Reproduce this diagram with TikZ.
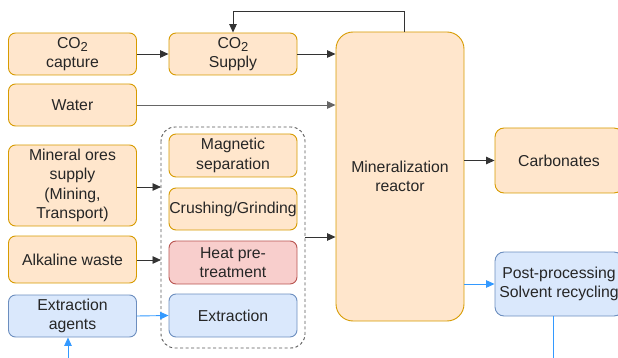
\documentclass[tikz,border=0pt]{standalone}
\usepackage{fontspec}
\setmainfont{Liberation Sans}
\usetikzlibrary{arrows.meta,positioning,calc}
\definecolor{orfill}{HTML}{FFE6CC}
\definecolor{ordraw}{HTML}{D79B00}
\definecolor{rdfill}{HTML}{F8CECC}
\definecolor{rddraw}{HTML}{B85450}
\definecolor{blfill}{HTML}{DAE8FC}
\definecolor{bldraw}{HTML}{6C8EBF}
\definecolor{flow}{HTML}{333333}
\definecolor{bflow}{HTML}{3399FF}
\newcommand{\cotwo}{CO\raisebox{-0.4ex}{\fontsize{13}{13}\selectfont 2}}
\tikzset{
  x=1pt, y=-1pt,
  box/.style={draw=ordraw, fill=orfill, line width=0.9pt, rounded corners=7pt,
    minimum width=128pt, minimum height=42pt, inner sep=0pt, align=center,
    font=\fontsize{15.8}{19.5}\selectfont, text=black!85},
  redbox/.style={box, draw=rddraw, fill=rdfill},
  bluebox/.style={box, draw=bldraw, fill=blfill},
  arr/.style={draw=flow, line width=0.9pt, -{Triangle[length=8.5pt,width=7.5pt]}},
  barr/.style={draw=bflow, line width=0.9pt, -{Triangle[length=8.5pt,width=7.5pt]}},
  group/.style={draw=black!65, dashed, line width=0.9pt, rounded corners=14pt,
    dash pattern=on 3pt off 2.5pt}
}
\begin{document}
\begin{tikzpicture}
\useasboundingbox (0,0) rectangle (618,358);

% inputs on the left
\node[box] (cap) at (72.5,54) {\cotwo\\capture};
\node[box] (sup) at (233,54) {\cotwo\\Supply};
\node[box] (wat) at (72.5,105) {Water};
\node[box, minimum height=81pt] (ore) at (72.5,185.5) {Mineral ores\\supply\\(Mining,\\Transport)};
\node[box, minimum height=47pt] (alk) at (72.5,259.5) {Alkaline waste};
\node[bluebox] (agt) at (72.5,316) {Extraction\\agents};

% pre-treatment group
\draw[group] (161,127) rectangle (305,348);
\coordinate (grpW) at (161,237);
\coordinate (grpE) at (305,237);
\node[box, minimum height=43pt] (mag) at (233,155.5) {Magnetic\\separation};
\node[box] (cru) at (233,209) {Crushing/Grinding};
\node[redbox, minimum height=43pt] (heat) at (233,262.5) {Heat pre-\\treatment};
\node[bluebox, minimum height=43pt] (ext) at (233,315.5) {Extraction};

% reactor and products
\node[box, minimum height=289pt, rounded corners=17pt, text depth=0pt] (rea) at (400,176.5) {Mineralization\\reactor};
\node[box, minimum height=65pt, rounded corners=9pt] (carb) at (559,160.5) {Carbonates};
\node[bluebox, minimum height=64pt, rounded corners=9pt] (post) at (559,284) {Post-processing\\Solvent recycling};

% connectors
\draw[arr] (cap) -- (sup);
\draw[arr] (sup.east) -- (sup.east -| rea.west);
\draw[arr, draw=black!60] (wat.east) -- (wat.east -| rea.west);
\coordinate (fbT) at (404,11);
\draw[arr] (rea.north -| fbT) -- (fbT) -| (sup.north);
\draw[arr] (ore.east |- 0,187) -- (grpW |- 0,187);
\draw[arr] (alk.east |- 0,260) -- (grpW |- 0,260);
\draw[barr] (agt.east) -- (ext.west);
\draw[arr] (grpE) -- (grpE -| rea.west);
\draw[arr] (rea.east |- carb.west) -- (carb.west);
\draw[barr] (rea.east |- post.west) -- (post.west);
\coordinate (agIn) at (68,358);
\draw[barr] (agIn) -- (agIn |- agt.south);
\coordinate (ppOut) at (553,358);
\draw[draw=bflow, line width=0.9pt] (ppOut |- post.south) -- (ppOut);
\end{tikzpicture}
\end{document}
